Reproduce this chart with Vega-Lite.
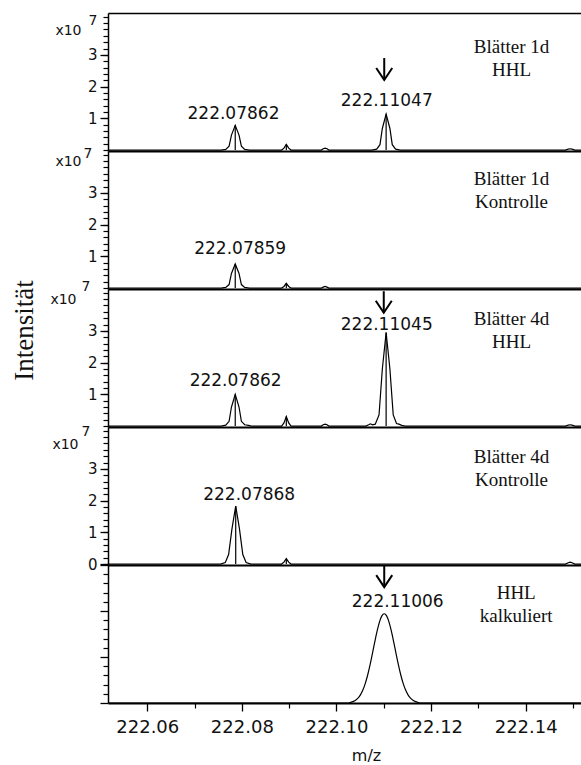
{
  "$schema": "https://vega.github.io/schema/vega-lite/v6.json",
  "padding": {"left": 10, "top": 13, "right": 0, "bottom": 0},
  "bounds": "flush",
  "spacing": 0,
  "datasets": {
    "spec": [
      {"p":1,"x":222.0517,"y":0},
      {"p":1,"x":222.0756,"y":0},{"p":1,"x":222.0766,"y":0.02},{"p":1,"x":222.0773,"y":0.12},{"p":1,"x":222.0778,"y":0.47},{"p":1,"x":222.0786,"y":0.78},{"p":1,"x":222.0794,"y":0.47},{"p":1,"x":222.0799,"y":0.12},{"p":1,"x":222.0806,"y":0.02},{"p":1,"x":222.0816,"y":0},
      {"p":1,"x":222.0884,"y":0},{"p":1,"x":222.0889,"y":0.06},{"p":1,"x":222.0894,"y":0.18},{"p":1,"x":222.0899,"y":0.06},{"p":1,"x":222.0904,"y":0},
      {"p":1,"x":222.0968,"y":0},{"p":1,"x":222.0972,"y":0.04},{"p":1,"x":222.0976,"y":0.06},{"p":1,"x":222.098,"y":0.04},{"p":1,"x":222.0984,"y":0},
      {"p":1,"x":222.1075,"y":0},{"p":1,"x":222.1085,"y":0.03},{"p":1,"x":222.1092,"y":0.17},{"p":1,"x":222.1097,"y":0.68},{"p":1,"x":222.1105,"y":1.13},{"p":1,"x":222.1113,"y":0.68},{"p":1,"x":222.1118,"y":0.17},{"p":1,"x":222.1125,"y":0.03},{"p":1,"x":222.1135,"y":0},
      {"p":1,"x":222.1484,"y":0},{"p":1,"x":222.149,"y":0.03},{"p":1,"x":222.1494,"y":0.04},{"p":1,"x":222.1498,"y":0.03},{"p":1,"x":222.1504,"y":0},
      {"p":1,"x":222.1517,"y":0},

      {"p":2,"x":222.0517,"y":0},
      {"p":2,"x":222.0756,"y":0},{"p":2,"x":222.0766,"y":0.02},{"p":2,"x":222.0773,"y":0.11},{"p":2,"x":222.0778,"y":0.46},{"p":2,"x":222.0786,"y":0.76},{"p":2,"x":222.0794,"y":0.46},{"p":2,"x":222.0799,"y":0.11},{"p":2,"x":222.0806,"y":0.02},{"p":2,"x":222.0816,"y":0},
      {"p":2,"x":222.0884,"y":0},{"p":2,"x":222.0889,"y":0.05},{"p":2,"x":222.0894,"y":0.15},{"p":2,"x":222.0899,"y":0.05},{"p":2,"x":222.0904,"y":0},
      {"p":2,"x":222.0968,"y":0},{"p":2,"x":222.0972,"y":0.03},{"p":2,"x":222.0976,"y":0.05},{"p":2,"x":222.098,"y":0.03},{"p":2,"x":222.0984,"y":0},
      {"p":2,"x":222.1517,"y":0},

      {"p":3,"x":222.0517,"y":0},
      {"p":3,"x":222.0756,"y":0},{"p":3,"x":222.0766,"y":0.03},{"p":3,"x":222.0773,"y":0.15},{"p":3,"x":222.0778,"y":0.6},{"p":3,"x":222.0786,"y":1.0},{"p":3,"x":222.0794,"y":0.6},{"p":3,"x":222.0799,"y":0.15},{"p":3,"x":222.0806,"y":0.04},{"p":3,"x":222.0814,"y":0.02},{"p":3,"x":222.082,"y":0},
      {"p":3,"x":222.0884,"y":0},{"p":3,"x":222.0889,"y":0.1},{"p":3,"x":222.0894,"y":0.3},{"p":3,"x":222.0899,"y":0.1},{"p":3,"x":222.0904,"y":0},
      {"p":3,"x":222.0968,"y":0},{"p":3,"x":222.0972,"y":0.04},{"p":3,"x":222.0976,"y":0.06},{"p":3,"x":222.098,"y":0.04},{"p":3,"x":222.0984,"y":0},
      {"p":3,"x":222.1062,"y":0},{"p":3,"x":222.1068,"y":0.04},{"p":3,"x":222.1072,"y":0.07},{"p":3,"x":222.1076,"y":0.04},{"p":3,"x":222.1082,"y":0.06},{"p":3,"x":222.109,"y":0.35},{"p":3,"x":222.1097,"y":1.8},{"p":3,"x":222.1105,"y":2.95},{"p":3,"x":222.1113,"y":1.8},{"p":3,"x":222.112,"y":0.35},{"p":3,"x":222.1127,"y":0.08},{"p":3,"x":222.1132,"y":0.06},{"p":3,"x":222.1138,"y":0.02},{"p":3,"x":222.1145,"y":0},
      {"p":3,"x":222.1484,"y":0},{"p":3,"x":222.149,"y":0.03},{"p":3,"x":222.1494,"y":0.04},{"p":3,"x":222.1498,"y":0.03},{"p":3,"x":222.1504,"y":0},
      {"p":3,"x":222.1517,"y":0},

      {"p":4,"x":222.0517,"y":0},
      {"p":4,"x":222.0755,"y":0},{"p":4,"x":222.0765,"y":0.05},{"p":4,"x":222.0772,"y":0.3},{"p":4,"x":222.0779,"y":1.1},{"p":4,"x":222.0787,"y":1.83},{"p":4,"x":222.0795,"y":1.1},{"p":4,"x":222.0802,"y":0.3},{"p":4,"x":222.0809,"y":0.05},{"p":4,"x":222.0819,"y":0},
      {"p":4,"x":222.0884,"y":0},{"p":4,"x":222.0889,"y":0.06},{"p":4,"x":222.0894,"y":0.17},{"p":4,"x":222.0899,"y":0.06},{"p":4,"x":222.0904,"y":0},
      {"p":4,"x":222.1484,"y":0},{"p":4,"x":222.149,"y":0.04},{"p":4,"x":222.1494,"y":0.06},{"p":4,"x":222.1498,"y":0.04},{"p":4,"x":222.1504,"y":0},
      {"p":4,"x":222.1517,"y":0},

      {"p":5,"x":222.0517,"y":0},
      {"p":5,"x":222.1026,"y":0},{"p":5,"x":222.1031,"y":0.019},{"p":5,"x":222.1036,"y":0.036},{"p":5,"x":222.1041,"y":0.065},{"p":5,"x":222.1046,"y":0.111},{"p":5,"x":222.1051,"y":0.183},{"p":5,"x":222.1056,"y":0.286},{"p":5,"x":222.1061,"y":0.428},{"p":5,"x":222.1066,"y":0.609},{"p":5,"x":222.1071,"y":0.828},{"p":5,"x":222.1076,"y":1.075},{"p":5,"x":222.1081,"y":1.329},{"p":5,"x":222.1086,"y":1.568},{"p":5,"x":222.1091,"y":1.765},{"p":5,"x":222.1096,"y":1.895},{"p":5,"x":222.1101,"y":1.94},{"p":5,"x":222.1106,"y":1.895},{"p":5,"x":222.1111,"y":1.765},{"p":5,"x":222.1116,"y":1.568},{"p":5,"x":222.1121,"y":1.329},{"p":5,"x":222.1126,"y":1.075},{"p":5,"x":222.1131,"y":0.828},{"p":5,"x":222.1136,"y":0.609},{"p":5,"x":222.1141,"y":0.428},{"p":5,"x":222.1146,"y":0.286},{"p":5,"x":222.1151,"y":0.183},{"p":5,"x":222.1156,"y":0.111},{"p":5,"x":222.1161,"y":0.065},{"p":5,"x":222.1166,"y":0.036},{"p":5,"x":222.1171,"y":0.019},{"p":5,"x":222.1176,"y":0},
      {"p":5,"x":222.1517,"y":0}
    ],
    "stick": [
      {"p":1,"x":222.0786,"h":0.78},{"p":1,"x":222.0894,"h":0.18},{"p":1,"x":222.1105,"h":1.13},
      {"p":2,"x":222.0786,"h":0.76},{"p":2,"x":222.0894,"h":0.15},
      {"p":3,"x":222.0786,"h":1.0},{"p":3,"x":222.0894,"h":0.3},{"p":3,"x":222.1105,"h":2.95},
      {"p":4,"x":222.0787,"h":1.83},{"p":4,"x":222.0894,"h":0.17}
    ],
    "lab": [
      {"p":1,"x":222.07823,"y":0.98,"t":"222.07862"},
      {"p":1,"x":222.11063,"y":1.39,"t":"222.11047"},
      {"p":2,"x":222.07965,"y":1.07,"t":"222.07859"},
      {"p":3,"x":222.07868,"y":1.27,"t":"222.07862"},
      {"p":3,"x":222.11063,"y":3.04,"t":"222.11045"},
      {"p":4,"x":222.08155,"y":2.03,"t":"222.07868"},
      {"p":5,"x":222.11295,"y":2.09,"t":"222.11006"}
    ],
    "name": [
      {"p":1,"x":222.137,"y":3.07,"t":"Blätter 1d\nHHL"},
      {"p":2,"x":222.137,"y":3.25,"t":"Blätter 1d\nKontrolle"},
      {"p":3,"x":222.137,"y":3.2,"t":"Blätter 4d\nHHL"},
      {"p":4,"x":222.137,"y":3.2,"t":"Blätter 4d\nKontrolle"},
      {"p":5,"x":222.138,"y":2.27,"t":"HHL\nkalkuliert"}
    ],
    "arrow": [
      {"p":1,"x":222.1101,"y1":2.9,"y2":2.21},
      {"p":3,"x":222.11,"y1":4.25,"y2":3.57},
      {"p":5,"x":222.1101,"y1":2.99,"y2":2.52}
    ]
  },
  "vconcat": [
    {
      "width": 473, "height": 138,
      "layer": [
        {
          "data": {"name": "spec"}, "transform": [{"filter": "datum.p == 1"}],
          "mark": {"type": "line", "color": "black", "strokeWidth": 1.2, "clip": true},
          "encoding": {
            "x": {"field": "x", "type": "quantitative", "scale": {"domain": [222.0517, 222.1517], "nice": false, "zero": false},
                  "axis": {"orient": "bottom", "ticks": false, "labels": false, "title": null, "domainWidth": 2}},
            "y": {"field": "y", "type": "quantitative", "scale": {"domain": [-0.03, 4.32], "nice": false, "zero": false},
                  "axis": {"orient": "left", "values": [1, 2, 3], "tickSize": 8, "tickWidth": 1.3, "labelFontSize": 15, "labelPadding": 3, "domainWidth": 1.5,
                           "title": "x10", "titleAngle": 0, "titleAlign": "right", "titleBaseline": "middle", "titleX": -27, "titleY": 17, "titleFontSize": 14}}
          }
        },
        {
          "data": {"name": "stick"}, "transform": [{"filter": "datum.p == 1"}],
          "mark": {"type": "rule", "color": "black", "strokeWidth": 1.2},
          "encoding": {
            "x": {"field": "x", "type": "quantitative", "axis": {"orient": "top", "ticks": false, "labels": false, "title": null, "domainWidth": 1.5}},
            "y": {"field": "h", "type": "quantitative",
                  "axis": {"orient": "left", "values": [0,0.2,0.4,0.6,0.8,1,1.2,1.4,1.6,1.8,2,2.2,2.4,2.6,2.8,3,3.2,3.4,3.6,3.8,4,4.2], "tickSize": 5, "tickWidth": 1.2, "labels": false, "domain": false,
                           "title": "7", "titleAngle": 0, "titleAlign": "left", "titleBaseline": "middle", "titleX": -20, "titleY": 7, "titleFontSize": 14}},
            "y2": {"datum": 0}
          }
        },
        {
          "data": {"name": "lab"}, "transform": [{"filter": "datum.p == 1"}],
          "mark": {"type": "text", "font": "DejaVu Sans", "fontSize": 17, "align": "center", "baseline": "alphabetic", "color": "#111"},
          "encoding": {
            "x": {"field": "x", "type": "quantitative", "axis": null},
            "y": {"field": "y", "type": "quantitative", "axis": null},
            "text": {"field": "t"}
          }
        },
        {
          "data": {"name": "name"}, "transform": [{"filter": "datum.p == 1"}],
          "mark": {"type": "text", "font": "Liberation Serif", "fontSize": 19, "align": "center", "baseline": "alphabetic", "lineBreak": "\n", "lineHeight": 23, "color": "#111"},
          "encoding": {
            "x": {"field": "x", "type": "quantitative", "axis": null},
            "y": {"field": "y", "type": "quantitative", "axis": null},
            "text": {"field": "t"}
          }
        },
        {
          "data": {"name": "arrow"}, "transform": [{"filter": "datum.p == 1"}],
          "mark": {"type": "rule", "color": "black", "strokeWidth": 2},
          "encoding": {
            "x": {"field": "x", "type": "quantitative", "axis": null},
            "y": {"field": "y1", "type": "quantitative", "axis": null},
            "y2": {"field": "y2"}
          }
        },
        {
          "data": {"name": "arrow"}, "transform": [{"filter": "datum.p == 1"}],
          "mark": {"type": "point", "shape": "M-1,-1.5L0,0L1,-1.5", "size": 256, "filled": false, "stroke": "black", "strokeWidth": 2, "opacity": 1},
          "encoding": {
            "x": {"field": "x", "type": "quantitative", "axis": null},
            "y": {"field": "y2", "type": "quantitative", "axis": null}
          }
        }
      ],
      "resolve": {"axis": {"x": "independent", "y": "independent"}}
    },
    {
      "width": 473, "height": 138,
      "layer": [
        {
          "data": {"name": "spec"}, "transform": [{"filter": "datum.p == 2"}],
          "mark": {"type": "line", "color": "black", "strokeWidth": 1.2, "clip": true},
          "encoding": {
            "x": {"field": "x", "type": "quantitative", "scale": {"domain": [222.0517, 222.1517], "nice": false, "zero": false},
                  "axis": {"orient": "bottom", "ticks": false, "labels": false, "title": null, "domainWidth": 2}},
            "y": {"field": "y", "type": "quantitative", "scale": {"domain": [-0.03, 4.32], "nice": false, "zero": false},
                  "axis": {"orient": "left", "values": [1, 2, 3], "tickSize": 8, "tickWidth": 1.3, "labelFontSize": 15, "labelPadding": 3, "domainWidth": 1.5,
                           "title": "x10", "titleAngle": 0, "titleAlign": "right", "titleBaseline": "middle", "titleX": -27, "titleY": 10.5, "titleFontSize": 14}}
          }
        },
        {
          "data": {"name": "stick"}, "transform": [{"filter": "datum.p == 2"}],
          "mark": {"type": "rule", "color": "black", "strokeWidth": 1.2},
          "encoding": {
            "x": {"field": "x", "type": "quantitative", "axis": null},
            "y": {"field": "h", "type": "quantitative",
                  "axis": {"orient": "left", "values": [0,0.2,0.4,0.6,0.8,1,1.2,1.4,1.6,1.8,2,2.2,2.4,2.6,2.8,3,3.2,3.4,3.6,3.8,4,4.2], "tickSize": 5, "tickWidth": 1.2, "labels": false, "domain": false,
                           "title": "7", "titleAngle": 0, "titleAlign": "left", "titleBaseline": "middle", "titleX": -25, "titleY": 2, "titleFontSize": 14}},
            "y2": {"datum": 0}
          }
        },
        {
          "data": {"name": "lab"}, "transform": [{"filter": "datum.p == 2"}],
          "mark": {"type": "text", "font": "DejaVu Sans", "fontSize": 17, "align": "center", "baseline": "alphabetic", "color": "#111"},
          "encoding": {
            "x": {"field": "x", "type": "quantitative", "axis": null},
            "y": {"field": "y", "type": "quantitative", "axis": null},
            "text": {"field": "t"}
          }
        },
        {
          "data": {"name": "name"}, "transform": [{"filter": "datum.p == 2"}],
          "mark": {"type": "text", "font": "Liberation Serif", "fontSize": 19, "align": "center", "baseline": "alphabetic", "lineBreak": "\n", "lineHeight": 23, "color": "#111"},
          "encoding": {
            "x": {"field": "x", "type": "quantitative", "axis": null},
            "y": {"field": "y", "type": "quantitative", "axis": null},
            "text": {"field": "t"}
          }
        }
      ],
      "resolve": {"axis": {"x": "independent", "y": "independent"}}
    },
    {
      "width": 473, "height": 138,
      "layer": [
        {
          "data": {"name": "spec"}, "transform": [{"filter": "datum.p == 3"}],
          "mark": {"type": "line", "color": "black", "strokeWidth": 1.2, "clip": true},
          "encoding": {
            "x": {"field": "x", "type": "quantitative", "scale": {"domain": [222.0517, 222.1517], "nice": false, "zero": false},
                  "axis": {"orient": "bottom", "ticks": false, "labels": false, "title": null, "domainWidth": 2}},
            "y": {"field": "y", "type": "quantitative", "scale": {"domain": [-0.03, 4.32], "nice": false, "zero": false},
                  "axis": {"orient": "left", "values": [1, 2, 3], "tickSize": 8, "tickWidth": 1.3, "labelFontSize": 15, "labelPadding": 3, "domainWidth": 1.5,
                           "title": "x10", "titleAngle": 0, "titleAlign": "right", "titleBaseline": "middle", "titleX": -32, "titleY": 10.5, "titleFontSize": 14}}
          }
        },
        {
          "data": {"name": "stick"}, "transform": [{"filter": "datum.p == 3"}],
          "mark": {"type": "rule", "color": "black", "strokeWidth": 1.2},
          "encoding": {
            "x": {"field": "x", "type": "quantitative", "axis": null},
            "y": {"field": "h", "type": "quantitative",
                  "axis": {"orient": "left", "values": [0,0.2,0.4,0.6,0.8,1,1.2,1.4,1.6,1.8,2,2.2,2.4,2.6,2.8,3,3.2,3.4,3.6,3.8,4,4.2], "tickSize": 5, "tickWidth": 1.2, "labels": false, "domain": false,
                           "title": "7", "titleAngle": 0, "titleAlign": "left", "titleBaseline": "middle", "titleX": -27, "titleY": -2.5, "titleFontSize": 14}},
            "y2": {"datum": 0}
          }
        },
        {
          "data": {"name": "lab"}, "transform": [{"filter": "datum.p == 3"}],
          "mark": {"type": "text", "font": "DejaVu Sans", "fontSize": 17, "align": "center", "baseline": "alphabetic", "color": "#111"},
          "encoding": {
            "x": {"field": "x", "type": "quantitative", "axis": null},
            "y": {"field": "y", "type": "quantitative", "axis": null},
            "text": {"field": "t"}
          }
        },
        {
          "data": {"name": "name"}, "transform": [{"filter": "datum.p == 3"}],
          "mark": {"type": "text", "font": "Liberation Serif", "fontSize": 19, "align": "center", "baseline": "alphabetic", "lineBreak": "\n", "lineHeight": 23, "color": "#111"},
          "encoding": {
            "x": {"field": "x", "type": "quantitative", "axis": null},
            "y": {"field": "y", "type": "quantitative",
                  "axis": {"orient": "left", "ticks": false, "labels": false, "domain": false, "title": "Intensität", "titleFont": "Liberation Serif", "titleFontSize": 27,
                           "titleAngle": -90, "titleAlign": "center", "titleBaseline": "top", "titleX": -97, "titleY": 41}},
            "text": {"field": "t"}
          }
        },
        {
          "data": {"name": "arrow"}, "transform": [{"filter": "datum.p == 3"}],
          "mark": {"type": "rule", "color": "black", "strokeWidth": 2},
          "encoding": {
            "x": {"field": "x", "type": "quantitative", "axis": null},
            "y": {"field": "y1", "type": "quantitative", "axis": null},
            "y2": {"field": "y2"}
          }
        },
        {
          "data": {"name": "arrow"}, "transform": [{"filter": "datum.p == 3"}],
          "mark": {"type": "point", "shape": "M-1,-1.5L0,0L1,-1.5", "size": 256, "filled": false, "stroke": "black", "strokeWidth": 2, "opacity": 1},
          "encoding": {
            "x": {"field": "x", "type": "quantitative", "axis": null},
            "y": {"field": "y2", "type": "quantitative", "axis": null}
          }
        }
      ],
      "resolve": {"axis": {"x": "independent", "y": "independent"}}
    },
    {
      "width": 473, "height": 138,
      "layer": [
        {
          "data": {"name": "spec"}, "transform": [{"filter": "datum.p == 4"}],
          "mark": {"type": "line", "color": "black", "strokeWidth": 1.2, "clip": true},
          "encoding": {
            "x": {"field": "x", "type": "quantitative", "scale": {"domain": [222.0517, 222.1517], "nice": false, "zero": false},
                  "axis": {"orient": "bottom", "ticks": false, "labels": false, "title": null, "domainWidth": 2}},
            "y": {"field": "y", "type": "quantitative", "scale": {"domain": [-0.03, 4.32], "nice": false, "zero": false},
                  "axis": {"orient": "left", "values": [0, 1, 2, 3], "tickSize": 8, "tickWidth": 1.3, "labelFontSize": 15, "labelPadding": 3, "domainWidth": 1.5,
                           "title": "x10", "titleAngle": 0, "titleAlign": "right", "titleBaseline": "middle", "titleX": -30, "titleY": 17, "titleFontSize": 14}}
          }
        },
        {
          "data": {"name": "stick"}, "transform": [{"filter": "datum.p == 4"}],
          "mark": {"type": "rule", "color": "black", "strokeWidth": 1.2},
          "encoding": {
            "x": {"field": "x", "type": "quantitative", "axis": null},
            "y": {"field": "h", "type": "quantitative",
                  "axis": {"orient": "left", "values": [0,0.2,0.4,0.6,0.8,1,1.2,1.4,1.6,1.8,2,2.2,2.4,2.6,2.8,3,3.2,3.4,3.6,3.8,4,4.2], "tickSize": 5, "tickWidth": 1.2, "labels": false, "domain": false,
                           "title": "7", "titleAngle": 0, "titleAlign": "left", "titleBaseline": "middle", "titleX": -27, "titleY": 4, "titleFontSize": 14}},
            "y2": {"datum": 0}
          }
        },
        {
          "data": {"name": "lab"}, "transform": [{"filter": "datum.p == 4"}],
          "mark": {"type": "text", "font": "DejaVu Sans", "fontSize": 17, "align": "center", "baseline": "alphabetic", "color": "#111"},
          "encoding": {
            "x": {"field": "x", "type": "quantitative", "axis": null},
            "y": {"field": "y", "type": "quantitative", "axis": null},
            "text": {"field": "t"}
          }
        },
        {
          "data": {"name": "name"}, "transform": [{"filter": "datum.p == 4"}],
          "mark": {"type": "text", "font": "Liberation Serif", "fontSize": 19, "align": "center", "baseline": "alphabetic", "lineBreak": "\n", "lineHeight": 23, "color": "#111"},
          "encoding": {
            "x": {"field": "x", "type": "quantitative", "axis": null},
            "y": {"field": "y", "type": "quantitative", "axis": null},
            "text": {"field": "t"}
          }
        }
      ],
      "resolve": {"axis": {"x": "independent", "y": "independent"}}
    },
    {
      "width": 473, "height": 138,
      "layer": [
        {
          "data": {"name": "spec"}, "transform": [{"filter": "datum.p == 5"}],
          "mark": {"type": "line", "color": "black", "strokeWidth": 1.2, "clip": true, "interpolate": "monotone"},
          "encoding": {
            "x": {"field": "x", "type": "quantitative", "scale": {"domain": [222.0517, 222.1517], "nice": false, "zero": false},
                  "axis": {"orient": "bottom", "values": [222.06, 222.08, 222.1, 222.12, 222.14], "format": ".2f", "tickSize": 8, "tickWidth": 1.3, "labelFontSize": 18, "labelPadding": 7, "domainWidth": 2,
                           "title": "m/z", "titleFontSize": 16, "titleX": 258, "titleY": 57, "titleBaseline": "alphabetic", "titleAlign": "center"}},
            "y": {"field": "y", "type": "quantitative", "scale": {"domain": [0, 3], "nice": false, "zero": false},
                  "axis": {"orient": "left", "values": [0, 1, 2, 3], "tickSize": 8, "tickWidth": 1.3, "labels": false, "domainWidth": 1.5, "title": null}}
          }
        },
        {
          "data": {"name": "arrow"}, "transform": [{"filter": "datum.p == 5"}],
          "mark": {"type": "rule", "color": "black", "strokeWidth": 2},
          "encoding": {
            "x": {"field": "x", "type": "quantitative",
                  "axis": {"orient": "bottom", "values": [222.07, 222.09, 222.11, 222.13, 222.15], "tickSize": 5, "tickWidth": 1.2, "labels": false, "domain": false, "title": null}},
            "y": {"field": "y1", "type": "quantitative",
                  "axis": {"orient": "left", "values": [0.2,0.4,0.6,0.8,1.2,1.4,1.6,1.8,2.2,2.4,2.6,2.8], "tickSize": 5, "tickWidth": 1.2, "labels": false, "domain": false, "title": null}},
            "y2": {"field": "y2"}
          }
        },
        {
          "data": {"name": "arrow"}, "transform": [{"filter": "datum.p == 5"}],
          "mark": {"type": "point", "shape": "M-1,-1.5L0,0L1,-1.5", "size": 256, "filled": false, "stroke": "black", "strokeWidth": 2, "opacity": 1},
          "encoding": {
            "x": {"field": "x", "type": "quantitative", "axis": null},
            "y": {"field": "y2", "type": "quantitative", "axis": null}
          }
        },
        {
          "data": {"name": "lab"}, "transform": [{"filter": "datum.p == 5"}],
          "mark": {"type": "text", "font": "DejaVu Sans", "fontSize": 17, "align": "center", "baseline": "alphabetic", "color": "#111"},
          "encoding": {
            "x": {"field": "x", "type": "quantitative", "axis": null},
            "y": {"field": "y", "type": "quantitative", "axis": null},
            "text": {"field": "t"}
          }
        },
        {
          "data": {"name": "name"}, "transform": [{"filter": "datum.p == 5"}],
          "mark": {"type": "text", "font": "Liberation Serif", "fontSize": 19, "align": "center", "baseline": "alphabetic", "lineBreak": "\n", "lineHeight": 23, "color": "#111"},
          "encoding": {
            "x": {"field": "x", "type": "quantitative", "axis": null},
            "y": {"field": "y", "type": "quantitative", "axis": null},
            "text": {"field": "t"}
          }
        }
      ],
      "resolve": {"axis": {"x": "independent", "y": "independent"}}
    }
  ],
  "config": {
    "view": {"stroke": null},
    "axis": {"grid": false, "domainColor": "black", "tickColor": "black", "labelColor": "#111", "titleColor": "#111",
             "labelFont": "DejaVu Sans", "titleFont": "DejaVu Sans", "titleFontWeight": "normal"}
  }
}
